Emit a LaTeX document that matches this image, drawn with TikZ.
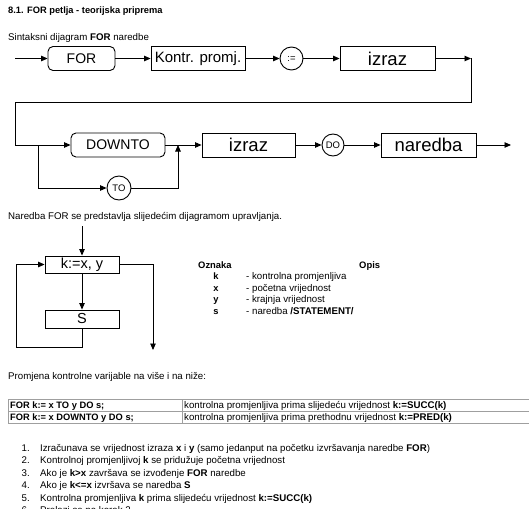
\documentclass[tikz,border=0pt]{standalone}
\usepackage{fontspec}
\setmainfont{Liberation Sans}
\usetikzlibrary{arrows.meta}
\begin{document}
\begin{tikzpicture}[x=1pt,y=-1pt,
  ln/.style={line width=0.9pt},
  arr/.style={line width=0.9pt,-{Triangle[length=6.5pt,width=5.5pt]}},
  sbox/.style={draw,line width=0.9pt,inner sep=0pt,minimum height=24pt},
  rbox/.style={sbox,rounded corners=5pt},
  circ/.style={draw,circle,line width=0.9pt,inner sep=0pt,font=\fontsize{9.5}{10}\selectfont},
  fsmall/.style={font=\fontsize{9.7}{11}\selectfont},
  fbold/.style={font=\bfseries\fontsize{9.3}{11}\selectfont},
  txt/.style={anchor=west,inner sep=0pt,text height=6.8pt,text depth=0pt,fsmall},
  num/.style={anchor=east,inner sep=0pt,text height=6.8pt,text depth=0pt,fsmall},
  fbig/.style={font=\fontsize{14}{16}\selectfont},
  fmid/.style={font=\fontsize{15}{17}\selectfont},
  fhuge/.style={font=\fontsize{18.5}{20}\selectfont},
  fbox/.style={draw,line width=0.9pt,inner sep=0pt,minimum width=74pt,font=\fontsize{14.5}{16}\selectfont},
  tline/.style={draw=gray!75,line width=0.8pt}
]
\useasboundingbox (0,0) rectangle (529,508);
\clip (0,0) rectangle (529,508);

% headings
\node[txt,fbold] (title) at (8,10) {8.1. FOR petlja - teorijska priprema};
\node[txt] (sint) at (8,37) {Sintaksni dijagram \textbf{FOR} naredbe};

% syntax diagram, row 1
\coordinate (a0) at (15,58.5);
\node[rbox,fbig,minimum width=67pt] (for) at (81.5,58.5) {FOR};
\node[sbox,fmid,minimum width=94pt] (kp) at (198,58.5) {Kontr. promj.};
\node[circ,minimum size=23pt] (as) at (291.5,58.5) {:=};
\node[sbox,fhuge,minimum width=95pt] (iz1) at (387.5,58.5) {izraz};
\coordinate (a1) at (471,58.5);
\coordinate (a2) at (471,102);
\coordinate (a3) at (15,102);
\coordinate (a4) at (15,145);
\draw[arr] (a0) -- (for);
\draw[arr] (for) -- (kp);
\draw[arr] (kp) -- (as);
\draw[arr] (as) -- (iz1);
\draw[arr] (iz1) -- (a1);
\draw[ln] (a1) -- (a2) -- (a3) -- (a4);

% row 2
\node[rbox,fbig,minimum width=94pt] (dt) at (118,145) {DOWNTO};
\draw[arr] (a4) -- (dt);
\coordinate (b1) at (38,145);
\coordinate (b2) at (38,188);
\node[circ,minimum size=24pt] (to) at (119,188) {TO};
\coordinate (b3) at (178,188);
\coordinate (b4) at (178,145);
\draw[arr] (b1) -- (b2) -- (to);
\draw[arr] (to) -- (b3) -- (b4);
\node[sbox,fhuge,minimum width=93pt] (iz2) at (248.5,145) {izraz};
\draw[arr] (dt) -- (iz2);
\node[circ,minimum size=22pt] (do) at (333,145) {DO};
\draw[arr] (iz2) -- (do);
\node[sbox,fhuge,minimum width=95pt] (nar) at (428.5,145) {naredba};
\draw[arr] (do) -- (nar);
\coordinate (e2) at (511,145);
\draw[arr] (nar) -- (e2);

% flow diagram
\node[txt] (nfor) at (8,216) {Naredba FOR se predstavlja slijedećim dijagramom upravljanja.};
\coordinate (f0) at (82,226);
\node[fbox,minimum height=17pt] (kxy) at (82,264.5) {k:=x, y};
\node[fbox,minimum height=18pt] (sb) at (82,319) {S};
\draw[arr] (f0) -- (kxy);
\draw[arr] (kxy) -- (sb);
\coordinate (l1) at (82,347);
\coordinate (l2) at (16,347);
\coordinate (l3) at (16,264.5);
\draw[arr] (sb.south) -- (l1) -- (l2) -- (l3) -- (kxy.west);
\coordinate (x1) at (153,264.5);
\coordinate (x2) at (153,350);
\draw[arr] (kxy.east) -- (x1) -- (x2);

% legend
\node[txt,font=\bfseries\fontsize{9.4}{11}\selectfont] (ozn) at (198,265) {Oznaka};
\node[txt,font=\bfseries\fontsize{9.4}{11}\selectfont] (opis) at (359,265) {Opis};
\node[num,fbold,anchor=center] (lk) at (216,276.5) {k};
\node[num,fbold,anchor=center] (lx) at (216,288) {x};
\node[num,fbold,anchor=center] (ly) at (216,299.5) {y};
\node[num,fbold,anchor=center] (ls) at (216,311) {s};
\node[txt] (dk) at (246,276.5) {- kontrolna promjenljiva};
\node[txt] (dx) at (246,288) {- početna vrijednost};
\node[txt] (dy) at (246,299.5) {- krajnja vrijednost};
\node[txt] (ds) at (246,311) {- naredba \textbf{/STATEMENT/}};

% table
\node[txt] (prom) at (8,376) {Promjena kontrolne varijable na više i na niže:};
\draw[tline] (8,399) rectangle (532,423);
\draw[tline] (8,411) -- (532,411);
\draw[tline] (182,399) -- (182,423);
\node[txt,fbold] (t11) at (10,405) {FOR k:= x TO y DO s;};
\node[txt,fbold] (t21) at (10,417) {FOR k:= x DOWNTO y DO s;};
\node[txt] (t12) at (184,405) {kontrolna promjenljiva prima slijedeću vrijednost \textbf{k:=SUCC(k)}};
\node[txt] (t22) at (184,417) {kontrolna promjenljiva prima prethodnu vrijednost \textbf{k:=PRED(k)}};

% numbered list
\node[num] (n1) at (30,448) {1.};
\node[num] (n2) at (30,460.5) {2.};
\node[num] (n3) at (30,473) {3.};
\node[num] (n4) at (30,485.5) {4.};
\node[num] (n5) at (30,498) {5.};
\node[num] (n6) at (30,510.5) {6.};
\node[txt] (i1) at (40,448) {Izračunava se vrijednost izraza \textbf{x} i \textbf{y} (samo jedanput na početku izvršavanja naredbe \textbf{FOR})};
\node[txt] (i2) at (40,460.5) {Kontrolnoj promjenljivoj \textbf{k} se pridužuje početna vrijednost};
\node[txt] (i3) at (40,473) {Ako je \textbf{k>x} završava se izvođenje \textbf{FOR} naredbe};
\node[txt] (i4) at (40,485.5) {Ako je \textbf{k<=x} izvršava se naredba \textbf{S}};
\node[txt] (i5) at (40,498) {Kontrolna promjenljiva \textbf{k} prima slijedeću vrijednost \textbf{k:=SUCC(k)}};
\node[txt] (i6) at (40,510.5) {Prelazi se na korak 2};
\end{tikzpicture}
\end{document}
